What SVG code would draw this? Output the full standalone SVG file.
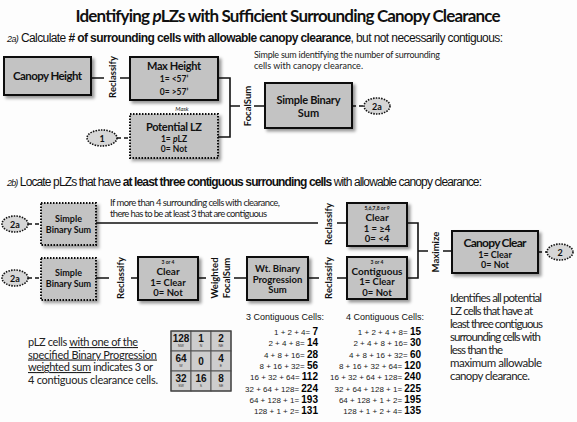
<svg xmlns="http://www.w3.org/2000/svg" width="577" height="422" viewBox="0 0 577 422">
<defs>
<filter id="sh" x="-10%" y="-10%" width="130%" height="140%">
<feDropShadow dx="2.5" dy="2.5" stdDeviation="1.5" flood-color="#000" flood-opacity="0.4"/>
</filter>
</defs>
<style>
.box{fill:#c3c3c3;stroke:#111;stroke-width:2;filter:url(#sh)}
.dbox{fill:#c3c3c3;stroke:#111;stroke-width:2;stroke-dasharray:1.5 1.5;filter:url(#sh)}
.ell{fill:#d6d6d6;stroke:#111;stroke-width:1.6;stroke-dasharray:1.5 1.2}
.ln{stroke:#111;stroke-width:1.6;fill:none}
.dl{stroke:#111;stroke-width:1.6;fill:none;stroke-dasharray:4 3}
.b{font-family:Lato,"Noto Sans",sans-serif;font-weight:bold;fill:#111;text-anchor:middle}
.c{font-family:Lato,"Noto Sans",sans-serif;fill:#222}
.a{font-family:"Liberation Sans",Arial,sans-serif;fill:#111}
.s{font-family:"Liberation Sans",Arial,sans-serif;fill:#222;text-anchor:end;font-size:8px}
.s tspan{font-weight:bold;font-size:10px;fill:#000}
.rot{font-family:Lato,"Noto Sans",sans-serif;font-weight:bold;fill:#111;text-anchor:middle;font-size:9.5px}
.gc{fill:#cdcdcd;stroke:#555;stroke-width:1}
.gn{font-family:"Liberation Sans",Arial,sans-serif;font-weight:bold;font-size:10px;text-anchor:middle;fill:#111}
.gl{font-family:"Liberation Sans",Arial,sans-serif;font-size:3.5px;text-anchor:middle;fill:#333}
</style>
<rect width="577" height="422" fill="#fdfdfd"/>

<text x="288" y="22" class="b" font-size="17" textLength="425">Identifying <tspan font-style="italic">p</tspan>LZs with Sufficient Surrounding Canopy Clearance</text>
<text x="7" y="42" class="a" font-size="12" textLength="496"><tspan font-style="italic" font-size="9">2a)</tspan> Calculate <tspan font-weight="bold"># of surrounding cells with allowable canopy clearance</tspan>, but not necessarily contiguous:</text>
<text x="254" y="58" class="c" font-size="9" textLength="186">Simple sum identifying the number of surrounding</text>
<text x="254" y="69" class="c" font-size="9" textLength="109">cells  with canopy clearance.</text>
<text x="7" y="186" class="a" font-size="12" textLength="475"><tspan font-style="italic" font-size="9">2b)</tspan> Locate pLZs that have <tspan font-weight="bold">at least three contiguous surrounding cells</tspan> with allowable canopy clearance:</text>
<text x="110" y="206" class="c" font-size="9.5" textLength="170">If more than 4 surrounding cells with clearance,</text>
<text x="110" y="217" class="c" font-size="9.5" textLength="157">there has to be at least 3 that are contiguous</text>

<g id="connectors">
<path class="ln" d="M92 78H104M120 78H130"/>
<path class="ln" d="M218 78H230V137H218M230 106H240M254 106H265"/>
<path class="dl" d="M117 138H130"/>
<path class="dl" d="M352 106H364"/>
<path class="dl" d="M28 224H41"/>
<path class="ln" d="M96 223H318M337 223H347"/>
<path class="dl" d="M28 278H41"/>
<path class="ln" d="M96 278H109M131 278H138M198 278H206M234 278H247M308 278H319M337 278H347"/>
<path class="ln" d="M407 223H418V278H407M418 251H428M443 251H452"/>
<path class="dl" d="M538 252H547"/>
<text class="rot" transform="translate(115.5 77) rotate(-90)">Reclassify</text>
<text class="rot" transform="translate(250.5 106) rotate(-90)">FocalSum</text>
<text class="rot" transform="translate(331.5 224) rotate(-90)">Reclassify</text>
<text class="rot" transform="translate(123.5 278) rotate(-90)">Reclassify</text>
<text class="rot" transform="translate(218 278) rotate(-90)">Weighted</text>
<text class="rot" transform="translate(229.5 278) rotate(-90)">FocalSum</text>
<text class="rot" transform="translate(331.5 278) rotate(-90)">Reclassify</text>
<text class="rot" transform="translate(438.5 252) rotate(-90)">Maximize</text>
</g>

<g id="canopy-height">
<rect class="box" x="4" y="57" width="87" height="38"/>
<text x="47.5" y="80" class="b" font-size="11.5" textLength="69">Canopy Height</text>
</g>
<g id="max-height">
<rect class="box" x="130" y="57" width="88" height="43"/>
<text x="174" y="70" class="b" font-size="11" textLength="54">Max Height</text>
<text x="174" y="82" class="b" font-size="8.5">1= &lt;57’</text>
<text x="174" y="95" class="b" font-size="8.5">0= &gt;57’</text>
</g>
<g id="potential-lz">
<text x="182" y="111" class="c" font-size="6" font-style="italic" text-anchor="middle">Mask</text>
<rect class="dbox" x="130" y="114" width="88" height="44"/>
<text x="174" y="131" class="b" font-size="11" textLength="56">Potential LZ</text>
<text x="174" y="142" class="b" font-size="8.5">1= <tspan font-style="italic">p</tspan>LZ</text>
<text x="174" y="152" class="b" font-size="8.5">0= Not</text>
</g>
<g id="ref-1">
<ellipse class="ell" cx="102" cy="138" rx="15" ry="8"/>
<text x="102" y="141.5" class="b" font-size="9">1</text>
</g>
<g id="simple-binary-sum-2a">
<rect class="box" x="265" y="83" width="87" height="45"/>
<text x="308.5" y="104" class="b" font-size="11" textLength="64">Simple Binary</text>
<text x="308.5" y="117" class="b" font-size="11">Sum</text>
</g>
<g id="ref-2a-out">
<ellipse class="ell" cx="377" cy="106" rx="13" ry="8"/>
<text x="377" y="109.5" class="b" font-size="9">2a</text>
</g>

<g id="ref-2a-row1">
<ellipse class="ell" cx="15" cy="224" rx="13" ry="8"/>
<text x="15" y="227.5" class="b" font-size="9">2a</text>
</g>
<g id="simple-binary-sum-row1">
<rect class="dbox" x="41" y="203" width="55" height="42"/>
<text x="68.5" y="222" class="b" font-size="9">Simple</text>
<text x="68.5" y="233" class="b" font-size="9">Binary Sum</text>
</g>
<g id="ref-2a-row2">
<ellipse class="ell" cx="15" cy="278" rx="13" ry="8"/>
<text x="15" y="281.5" class="b" font-size="9">2a</text>
</g>
<g id="simple-binary-sum-row2">
<rect class="dbox" x="41" y="258" width="55" height="42"/>
<text x="68.5" y="276" class="b" font-size="9">Simple</text>
<text x="68.5" y="287" class="b" font-size="9">Binary Sum</text>
</g>
<g id="clear-3or4">
<rect class="box" x="138" y="257" width="60" height="43"/>
<text x="168" y="263.5" class="b" font-size="5">3 or 4</text>
<text x="168" y="275" class="b" font-size="10">Clear</text>
<text x="168" y="285.5" class="b" font-size="9.5">1= Clear</text>
<text x="168" y="296" class="b" font-size="9.5">0= Not</text>
</g>
<g id="wt-binary">
<rect class="box" x="247" y="257" width="61" height="43"/>
<text x="277.5" y="272" class="b" font-size="9.5">Wt. Binary</text>
<text x="277.5" y="282.5" class="b" font-size="9.5">Progression</text>
<text x="277.5" y="293" class="b" font-size="9.5">Sum</text>
</g>
<g id="clear-5to9">
<rect class="box" x="347" y="203" width="60" height="43"/>
<text x="377" y="209.5" class="b" font-size="5">5,6,7,8 or 9</text>
<text x="377" y="221" class="b" font-size="10">Clear</text>
<text x="377" y="231.5" class="b" font-size="9.5">1 = ≥4</text>
<text x="377" y="242" class="b" font-size="9.5">0= &lt;4</text>
</g>
<g id="contiguous">
<rect class="box" x="347" y="257" width="60" height="42"/>
<text x="377" y="263.5" class="b" font-size="5">3 or 4</text>
<text x="377" y="274.5" class="b" font-size="10">Contiguous</text>
<text x="377" y="285" class="b" font-size="9.5">1=  Clear</text>
<text x="377" y="295.5" class="b" font-size="9.5">0= Not</text>
</g>
<g id="canopy-clear">
<rect class="box" x="452" y="231" width="86" height="42"/>
<text x="495" y="247" class="b" font-size="12" textLength="63">Canopy Clear</text>
<text x="495" y="258" class="b" font-size="9">1= Clear</text>
<text x="495" y="268" class="b" font-size="9">0= Not</text>
</g>
<g id="ref-2">
<ellipse class="ell" cx="560" cy="252" rx="13" ry="8"/>
<text x="560" y="255.5" class="b" font-size="9">2</text>
</g>

<g id="note-right" class="c" font-size="11.5">
<text x="450" y="302" textLength="92">Identifies all potential</text>
<text x="450" y="315" textLength="83">LZ cells that have at</text>
<text x="450" y="328" textLength="93">least three contiguous</text>
<text x="450" y="341" textLength="91">surrounding cells with</text>
<text x="450" y="354" textLength="53">less than the</text>
<text x="450" y="367" textLength="92">maximum allowable</text>
<text x="450" y="380" textLength="80">canopy clearance.</text>
</g>

<g id="note-left" class="c" font-size="11">
<text x="28" y="346" textLength="110">pLZ cells <tspan text-decoration="underline">with one of the</tspan></text>
<text x="28" y="358.5" textLength="129" text-decoration="underline">specified Binary Progression</text>
<text x="28" y="371" textLength="125"><tspan text-decoration="underline">weighted sum</tspan> indicates 3 or</text>
<text x="28" y="383.5" textLength="130">4 contiguous clearance cells.</text>
</g>

<g id="grid">
<rect class="gc" x="171" y="331" width="20" height="20"/>
<rect class="gc" x="191" y="331" width="20" height="20"/>
<rect class="gc" x="211" y="331" width="20" height="20"/>
<rect class="gc" x="171" y="351" width="20" height="20"/>
<rect class="gc" x="191" y="351" width="20" height="20"/>
<rect class="gc" x="211" y="351" width="20" height="20"/>
<rect class="gc" x="171" y="371" width="20" height="20"/>
<rect class="gc" x="191" y="371" width="20" height="20"/>
<rect class="gc" x="211" y="371" width="20" height="20"/>
<rect x="171" y="331" width="60" height="60" fill="none" stroke="#444" stroke-width="1.2"/>
<text class="gn" x="181" y="342">128</text><text class="gl" x="181" y="347">NW</text>
<text class="gn" x="201" y="342">1</text><text class="gl" x="201" y="347">N</text>
<text class="gn" x="221" y="342">2</text><text class="gl" x="221" y="347">NE</text>
<text class="gn" x="181" y="362">64</text><text class="gl" x="181" y="367">W</text>
<text class="gn" x="201" y="365">0</text>
<text class="gn" x="221" y="362">4</text><text class="gl" x="221" y="367">E</text>
<text class="gn" x="181" y="382">32</text><text class="gl" x="181" y="387">SW</text>
<text class="gn" x="201" y="382">16</text><text class="gl" x="201" y="387">S</text>
<text class="gn" x="221" y="382">8</text><text class="gl" x="221" y="387">SE</text>
</g>

<g id="sums">
<text class="a" x="246" y="320" font-size="9">3 Contiguous  Cells:</text>
<text class="a" x="346" y="320" font-size="9">4 Contiguous  Cells:</text>
<text class="s" x="318" y="335">1 + 2 + 4= <tspan>7</tspan></text>
<text class="s" x="318" y="346.3">2 + 4 + 8= <tspan>14</tspan></text>
<text class="s" x="318" y="357.6">4 + 8 + 16= <tspan>28</tspan></text>
<text class="s" x="318" y="368.9">8 + 16 + 32= <tspan>56</tspan></text>
<text class="s" x="318" y="380.2">16 + 32 + 64= <tspan>112</tspan></text>
<text class="s" x="318" y="391.5">32 + 64 + 128= <tspan>224</tspan></text>
<text class="s" x="318" y="402.8">64 + 128 + 1= <tspan>193</tspan></text>
<text class="s" x="318" y="414.1">128 + 1 + 2= <tspan>131</tspan></text>
<text class="s" x="421" y="335">1 + 2 + 4 + 8= <tspan>15</tspan></text>
<text class="s" x="421" y="346.3">2 + 4 + 8 + 16= <tspan>30</tspan></text>
<text class="s" x="421" y="357.6">4 + 8 + 16 + 32= <tspan>60</tspan></text>
<text class="s" x="421" y="368.9">8 + 16 + 32 + 64= <tspan>120</tspan></text>
<text class="s" x="421" y="380.2">16 + 32 + 64 + 128= <tspan>240</tspan></text>
<text class="s" x="421" y="391.5">32 + 64 + 128 + 1= <tspan>225</tspan></text>
<text class="s" x="421" y="402.8">64 + 128 + 1 + 2= <tspan>195</tspan></text>
<text class="s" x="421" y="414.1">128 + 1 + 2 + 4= <tspan>135</tspan></text>
</g>
</svg>
